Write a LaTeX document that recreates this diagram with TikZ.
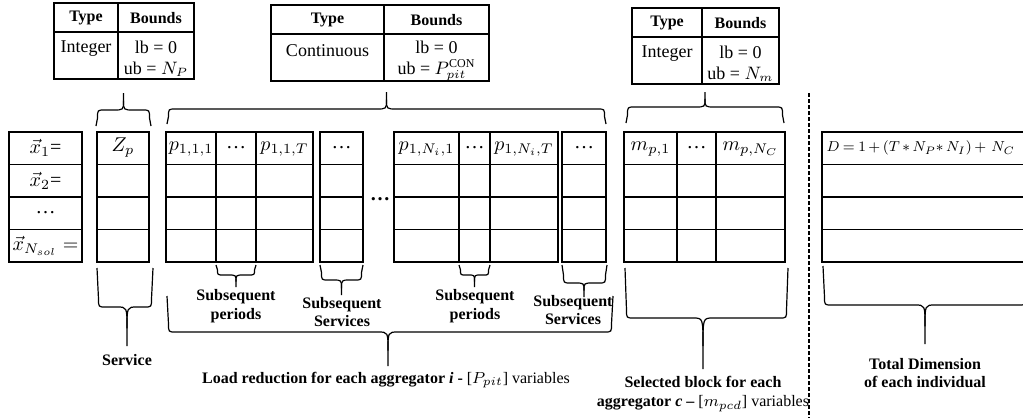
\documentclass[tikz,border=0pt]{standalone}
\usepackage{fontspec}
\setmainfont{Liberation Serif}
\usetikzlibrary{calc}

% brace: left x, right x, end y, line y, tip y, tip x
\newcommand{\curlybrace}[6]{%
  \pgfmathsetmacro{\bs}{ifthenelse(#4>#3,1,-1)}%
  \pgfmathsetmacro{\bce}{\bs*min(8,0.5*abs(#4-#3))}%
  \pgfmathsetmacro{\bcu}{0.55*(#5-#4)}%
  \pgfmathsetmacro{\bch}{min(7,(#2-#1)/6)}%
  \pgfmathsetmacro{\bcw}{min(10,(#2-#1)/5)}%
  \draw (#1,#3) -- ({#1+1.5},{#4-\bce}) .. controls ({#1+1.5},#4) .. ({#1+1.5+\bch},#4)
    -- ({#6-\bcw},#4) .. controls (#6,#4) .. (#6,{#4+\bcu}) -- (#6,#5);
  \draw (#2,#3) -- ({#2-1.5},{#4-\bce}) .. controls ({#2-1.5},#4) .. ({#2-1.5-\bch},#4)
    -- ({#6+\bcw},#4) .. controls (#6,#4) .. (#6,{#4+\bcu});
}

% grid of four rows: left, right, inner columns
\newcommand{\cellgrid}[3]{%
  \draw (#1,132) rectangle (#2,262);
  \foreach \ry in {164.5,197,229.5} \draw (#1,\ry) -- (#2,\ry);
  \foreach \cx in {#3} \draw (\cx,132) -- (\cx,262);
}

% type table: name, left, split, right, top, type, upper bound
\newcommand{\typetable}[7]{%
  \draw (#2,#5) rectangle (#4,{#5+76});
  \draw (#2,{#5+29}) -- (#4,{#5+29});
  \draw (#3,#5) -- (#3,{#5+76});
  \node[head] (#1-type) at ({(#2+#3)/2},{#5+15}) {Type};
  \node[head] (#1-bounds) at ({(#3+#4)/2},{#5+15}) {Bounds};
  \node[body] (#1-kind) at ({(#2+#3)/2},{#5+46}) {#6};
  \node[body] (#1-range) at ({(#3+#4)/2},{#5+56}) {lb = 0\\[1pt]ub = #7};
}

\begin{document}
\begin{tikzpicture}[x=0.5pt, y=-0.5pt, line width=0.6pt,
  cell/.style={inner sep=0pt, font=\fontsize{10}{12}\selectfont},
  head/.style={inner sep=0pt, font=\fontsize{8}{9.6}\selectfont\bfseries},
  body/.style={inner sep=0pt, align=center, font=\fontsize{9}{9.5}\selectfont},
  lab/.style={inner sep=0pt, align=center, font=\fontsize{8}{9.3}\selectfont\bfseries}]
	\useasboundingbox (0,0) rectangle (1023,418);
	\clip (0,0) rectangle (1023,418);

	\typetable{tZ}{54}{118}{194}{3}{Integer}{$N_P$}
	\typetable{tP}{271}{384}{489}{5}{Continuous}{$P_{pit}^{\mathrm{CON}}$}
	\typetable{tM}{632}{702}{779}{8}{Integer}{$N_m$}

	\curlybrace{96}{151}{126}{110}{93}{123.5}
	\curlybrace{167}{606}{124}{109}{92}{386.5}
	\curlybrace{626}{784}{123}{107}{92}{705}

	\cellgrid{9}{82}{9}
	\cellgrid{97}{149}{97}
	\cellgrid{166}{313}{216,256}
	\cellgrid{320}{363}{320}
	\cellgrid{394}{558}{459,490}
	\cellgrid{562}{606}{562}
	\cellgrid{624}{785}{677,716}
	\cellgrid{822}{1040}{822}

	\node[cell] (x1) at (45.5,148) {$\vec{x}_1$=};
	\node[cell] (x2) at (45.5,180.5) {$\vec{x}_2$=};
	\node[cell] (xd) at (45.5,213) {\dots};
	\node[cell] (xn) at (45.5,246) {$\vec{x}_{N_{sol}}=$};
	\node[cell] (zp) at (123,148) {$Z_p$};
	\node[cell] (pa1) at (191,149) {$p_{1,1,1}$};
	\node[cell] (pad) at (236,148) {\dots};
	\node[cell] (paT) at (284.5,149) {$p_{1,1,T}$};
	\node[cell] (da) at (341.5,148) {\dots};
	\node[cell, font=\fontsize{10}{12}\selectfont\bfseries] (mid) at (380,199) {\dots};
	\node[cell] (pb1) at (426.5,149) {$p_{1,N_i,1}$};
	\node[cell] (pbd) at (474.5,148) {\dots};
	\node[cell] (pbT) at (524,149) {$p_{1,N_i,T}$};
	\node[cell] (db) at (584,148) {\dots};
	\node[cell] (m1) at (650.5,149) {$m_{p,1}$};
	\node[cell] (md) at (696.5,148) {\dots};
	\node[cell] (mN) at (750.5,149) {$m_{p,N_C}$};
	\node[cell, anchor=west, font=\fontsize{8}{9.6}\selectfont] (dim) at (826,148)
		{\scalebox{0.9}{\thickmuskip=4mu \medmuskip=3mu $D = 1 + (T \ast N_P\!\ast N_I) +\, N_C$}};

	\curlybrace{97}{153}{268}{307}{346}{127}
	\curlybrace{216}{256}{265}{275}{287}{236}
	\curlybrace{320}{363}{265}{280}{295}{341.5}
	\curlybrace{459}{490}{265}{275}{287}{474.5}
	\curlybrace{562}{607}{265}{283}{297}{584}
	\curlybrace{167}{613}{296}{332}{366}{388}
	\curlybrace{625}{788}{268}{318}{369}{703}
	\curlybrace{823}{1027}{266}{305}{344}{925}

	\node[lab] (service) at (127,360) {Service};
	\node[lab] (perA) at (236,306) {Subsequent\\periods};
	\node[lab] (serA) at (342,312) {Subsequent\\Services};
	\node[lab] (perB) at (475,306) {Subsequent\\periods};
	\node[lab] (serB) at (573,310) {Subsequent\\Services};
	\node[lab] (load) at (386,380) {Load reduction for each aggregator \textit{i} - \textmd{[$P_{pit}$] variables}};
	\node[lab] (block) at (703,394) {Selected block for each\\aggregator \textit{c} -- \textmd{[$m_{pcd}$] variables}};
	\node[lab] (total) at (925,373) {Total Dimension\\of each individual};

	\coordinate (sepTop) at (809,93);
	\coordinate (sepBot) at (809,418);
	\draw[dash pattern=on 2pt off 1pt] (sepTop) -- (sepBot);
\end{tikzpicture}
\end{document}
